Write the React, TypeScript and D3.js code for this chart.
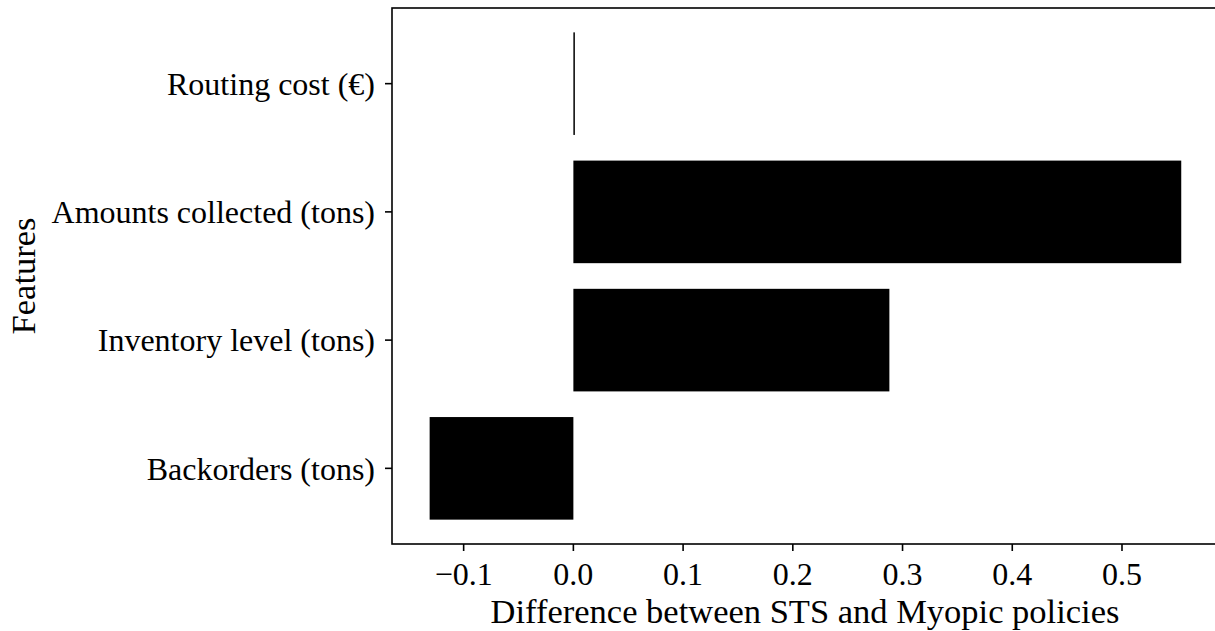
import React from 'react';
import * as d3 from 'd3';

const features = ['Routing cost (€)', 'Amounts collected (tons)', 'Inventory level (tons)', 'Backorders (tons)'];
const differences = [0.001, 0.554, 0.288, -0.131];
const xTicks = [-0.1, 0.0, 0.1, 0.2, 0.3, 0.4, 0.5];

const W = 1215;
const H = 631;
const margin = { left: 392, top: 8, right: -3, bottom: 87 };
const font = '"Liberation Serif", "Times New Roman", serif';
const fs = 32;
const labelFs = 34.5;

const fmt = (v: number) => (v < 0 ? '\u2212' : '') + Math.abs(v).toFixed(1);

const App: React.FC = () => {
  const x = d3.scaleLinear().domain([-0.1653, 0.5875]).range([margin.left, W - margin.right]);
  // band positions like matplotlib barh: centers at 0..3, height 0.8, 5% padding
  const y = d3.scaleLinear().domain([-0.59, 3.59]).range([margin.top, H - margin.bottom]);
  const barH = y(0.4) - y(-0.4);
  const x0 = x(0);
  const bottom = H - margin.bottom;

  return (
    <svg width={W} height={H} style={{ position: 'absolute', left: 0, top: 0, background: '#fff' }} fontFamily={font}>
      {differences.map((d, i) => (
        <rect
          key={features[i]}
          x={Math.min(x(d), x0)}
          y={y(i) - barH / 2}
          width={Math.max(Math.abs(x(d) - x0), 1.5)}
          height={barH}
          fill="#000"
        />
      ))}
      {/* spines */}
      <rect
        x={margin.left}
        y={margin.top}
        width={W - margin.right - margin.left}
        height={bottom - margin.top}
        fill="none"
        stroke="#000"
        strokeWidth={1.6}
      />
      {/* x ticks */}
      {xTicks.map(t => (
        <g key={t} transform={`translate(${x(t)},${bottom})`}>
          <line y2={7} stroke="#000" strokeWidth={1.6} />
          <text y={41} textAnchor="middle" fontSize={fs} fill="#000">{fmt(t)}</text>
        </g>
      ))}
      {/* y ticks */}
      {features.map((f, i) => (
        <g key={f} transform={`translate(${margin.left},${y(i)})`}>
          <line x2={-7} stroke="#000" strokeWidth={1.6} />
          <text x={-17} dy="0.35em" textAnchor="end" fontSize={fs} fill="#000">{f}</text>
        </g>
      ))}
      <text x={805} y={623} textAnchor="middle" fontSize={labelFs} fill="#000">
        Difference between STS and Myopic policies
      </text>
      <text
        transform={`translate(35,276) rotate(-90)`}
        textAnchor="middle"
        fontSize={labelFs}
        fill="#000"
      >
        Features
      </text>
    </svg>
  );
};

export default App;
